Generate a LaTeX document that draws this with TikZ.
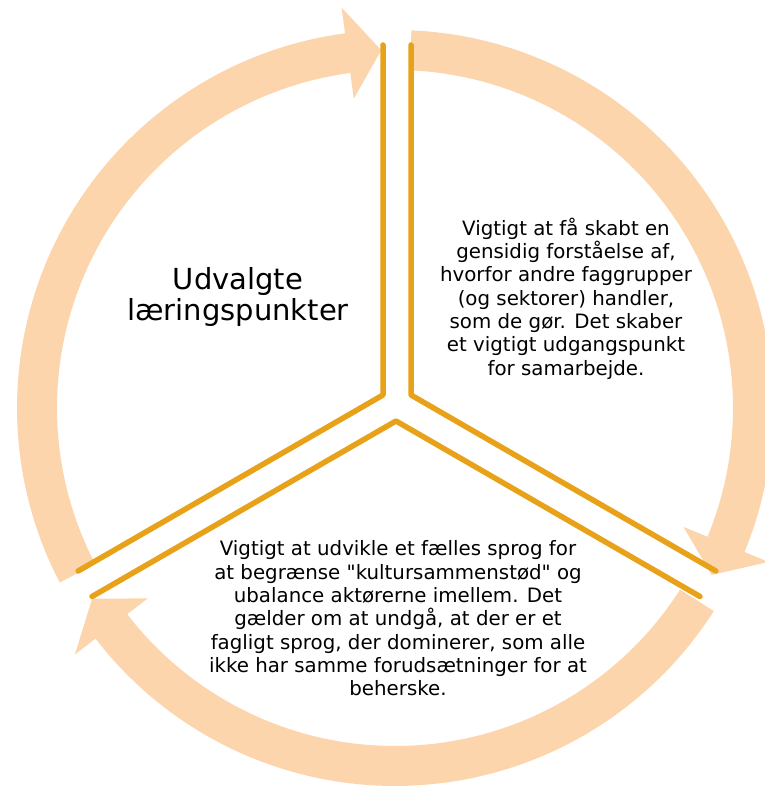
\documentclass[tikz,border=0pt]{standalone}
\usepackage{fontspec}
\setmainfont{DejaVu Sans}
\usetikzlibrary{calc}
\definecolor{peach}{RGB}{253,213,172}
\definecolor{ochre}{RGB}{232,162,26}
\tikzset{
  sepline/.style={draw=ochre, line width=5.5pt, line cap=round, line join=round},
  bodytext/.style={align=center, inner sep=0pt, font=\fontsize{19.8}{23.3}\selectfont},
  titletext/.style={align=center, inner sep=0pt, font=\fontsize{29}{31}\selectfont}
}
\newcommand{\cyclearrow}[1]{%
  \pgfmathsetmacro{\tA}{#1}%
  \pgfmathsetmacro{\tH}{#1-115.3}%
  \pgfmathsetmacro{\tB}{#1-109.9}%
  \fill[peach] ($(C)+(\tA:338)$) arc[start angle=\tA, end angle=\tB, radius=338]
    -- ($(C)+(\tB:312)$) -- ($(C)+(\tH:358)$) -- ($(C)+(\tB:404)$)
    -- ($(C)+(\tB:378)$) arc[start angle=\tB, end angle=\tA, radius=378] -- cycle;
}
\begin{document}
\begin{tikzpicture}[x=1pt,y=1pt]
\useasboundingbox (0,0) rectangle (764,786);
\coordinate (C) at (395,378);
% arrows
\cyclearrow{87.5}
\cyclearrow{-32.5}
\cyclearrow{207.5}
% sector vertices
\coordinate (vTL) at (383,391);
\coordinate (vTR) at (411,391);
\coordinate (vB) at (396,365);
\draw[sepline] ($(vTL)+(90:350)$) -- (vTL) -- ($(vTL)+(210:352)$);
\draw[sepline] ($(vTR)+(90:350)$) -- (vTR) -- ($(vTR)+(-30:352)$);
\draw[sepline] ($(vB)+(210:351)$) -- (vB) -- ($(vB)+(-30:351)$);
% texts
\node[titletext] (title) at (238,489) {Udvalgte\\læringspunkter};
\node[bodytext] (right) at (566,487.5) {Vigtigt at få skabt en\\gensidig forståelse af,\\hvorfor andre faggrupper\\(og sektorer) handler,\\som de gør. Det skaber\\et vigtigt udgangspunkt\\for samarbejde.};
\node[bodytext] (bottom) at (398,167.5) {Vigtigt at udvikle et fælles sprog for\\at begrænse \textquotedbl kultursammenstød\textquotedbl\ og\\ubalance aktørerne imellem. Det\\gælder om at undgå, at der er et\\fagligt sprog, der dominerer, som alle\\ikke har samme forudsætninger for at\\beherske.};
\end{tikzpicture}
\end{document}
